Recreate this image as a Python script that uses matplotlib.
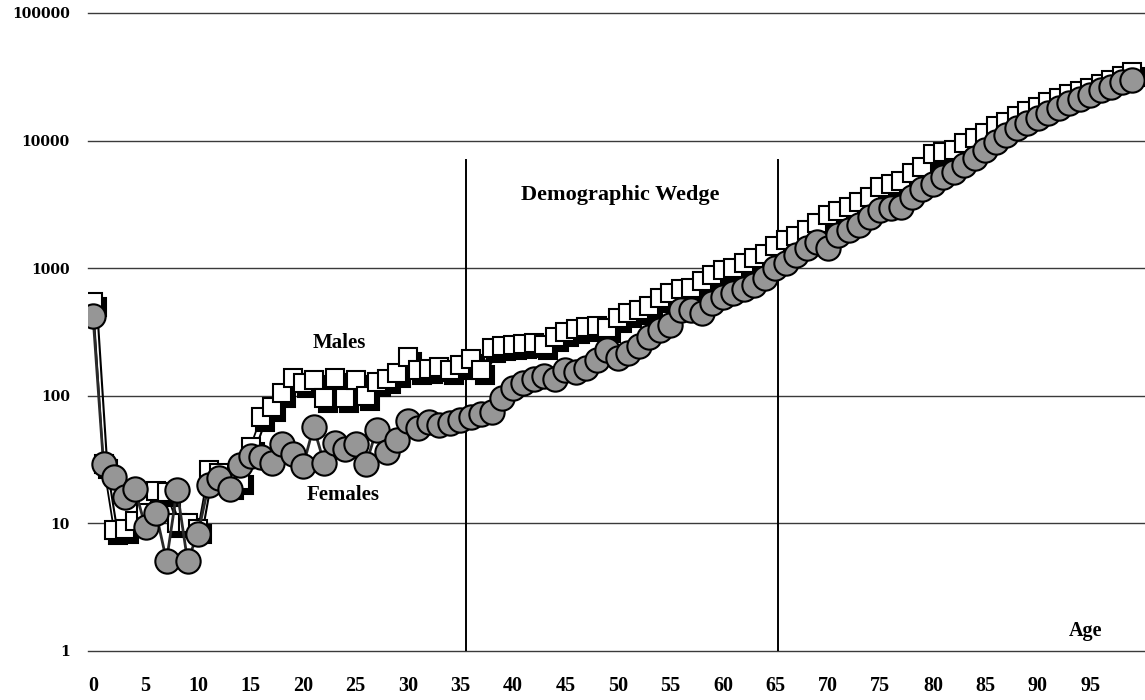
import matplotlib
matplotlib.use("Agg")
import matplotlib.pyplot as plt
from matplotlib import transforms

ages = list(range(100))

males = [
    540, 29, 8.8, 9.0, 10.5, 12, 18, 17.5, 10, 10,
    9, 26, 25, 20, 22, 40, 68, 82, 105, 137,
    125, 133, 96, 137, 96, 133, 100, 128, 135, 150,
    200, 160, 162, 168, 160, 175, 195, 160, 235, 245,
    250, 255, 260, 250, 290, 315, 335, 345, 355, 340,
    410, 445, 470, 510, 580, 640, 690, 700, 800, 880,
    960, 1000, 1100, 1200, 1300, 1500, 1650, 1800, 2000, 2250,
    2600, 2800, 3000, 3300, 3600, 4300, 4600, 4800, 5600, 6200,
    7800, 8100, 8400, 9500, 10500, 11500, 13000, 14000, 15500, 17000,
    18500, 20000, 21500, 23000, 24500, 26000, 28000, 30000, 32000, 34500,
]

females = [
    420, 29, 23, 16, 18.5, 9.3, 12, 5.1, 18.3, 5.1,
    8.3, 20, 22.5, 18.5, 28.5, 34, 33, 30, 42, 35,
    28, 57, 30, 43, 38, 42, 29, 54, 36, 45,
    63, 56, 62, 59, 61, 65, 68, 72, 74, 96,
    115, 126, 136, 143, 135, 158, 155, 166, 192, 228,
    198, 216, 245, 290, 330, 362, 470, 472, 448, 530,
    595, 640, 685, 745, 840, 1000, 1100, 1260, 1450, 1600,
    1450, 1830, 2000, 2200, 2500, 2850, 2950, 3000, 3600, 4200,
    4600, 5200, 5700, 6400, 7300, 8500, 9800, 11000, 12500, 13700,
    15000, 16500, 18000, 19700, 21000, 22700, 25000, 26500, 29000, 30000,
]

y_ticks = [1, 10, 100, 1000, 10000, 100000]
x_ticks = list(range(0, 100, 5))
wedge_ages = [35.5, 65.2]

serif = "Liberation Serif"

fig = plt.figure(figsize=(11.45, 7.0), dpi=100)
ax = fig.add_axes([88 / 1145, 49 / 700, 1057 / 1145, 638 / 700])
ax.set_yscale("log")
ax.set_xlim(-0.48, 100.2)
ax.set_ylim(1, 100000)

for v in y_ticks:
    ax.axhline(v, color="#3a3a3a", lw=1.0, clip_on=False, zorder=1)
for a in wedge_ages:
    ax.axvline(a, ymin=0, ymax=0.77, color="black", lw=1.4, zorder=1)

# black drop shadow behind the male squares
shadow = transforms.offset_copy(ax.transData, fig=fig, x=4, y=-5, units="dots")
ax.plot(ages, males, color="black", lw=1.5, marker="s", ms=13.5,
        mfc="black", mec="black", mew=1.5, transform=shadow, zorder=2)
ax.plot(ages, males, color="black", lw=1.3, marker="s", ms=13.5,
        mfc="white", mec="black", mew=1.5, zorder=3)
ax.plot(ages, females, color="#2a2a2a", lw=2.0, marker="o", ms=17.5,
        mfc="#969696", mec="black", mew=1.5, zorder=4)

for side in ["left", "right", "top", "bottom"]:
    ax.spines[side].set_visible(False)

ax.set_yticks(y_ticks)
ax.set_yticklabels([str(v) for v in y_ticks], fontfamily="DejaVu Serif",
                   fontweight="bold", fontsize=10)
ax.minorticks_off()
ax.set_xticks(x_ticks)
ax.set_xticklabels([str(v) for v in x_ticks], fontfamily=serif,
                   fontweight="bold", fontsize=14.5)
ax.tick_params(axis="y", length=0, pad=13)
ax.tick_params(axis="x", length=0, pad=18)

ax.text(23.5, 260, "Males", fontfamily=serif, fontweight="bold",
        fontsize=15, ha="center", va="center")
ax.text(23.8, 16.7, "Females", fontfamily=serif, fontweight="bold",
        fontsize=15, ha="center", va="center")
ax.text(50.2, 3750, "Demographic Wedge", fontfamily=serif,
        fontweight="bold", fontsize=16, ha="center", va="center")
ax.text(94.5, 1.43, "Age", fontfamily=serif, fontweight="bold",
        fontsize=14.5, ha="center", va="center")

fig.savefig("out.png", dpi=100)
